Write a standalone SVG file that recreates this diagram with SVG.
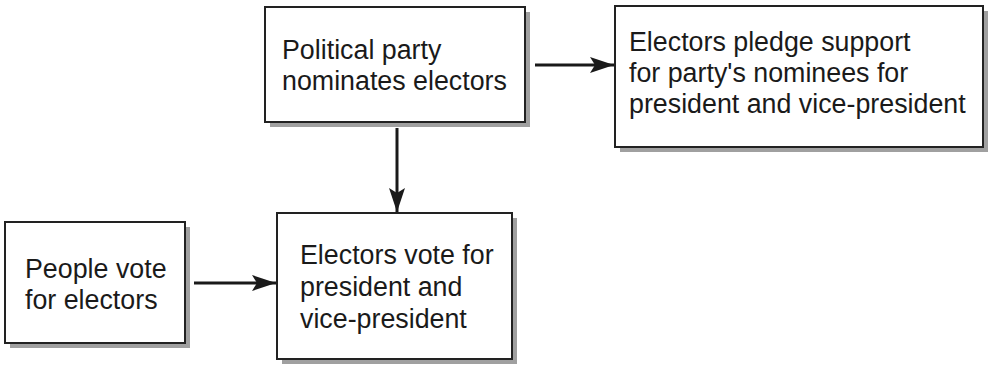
<svg xmlns="http://www.w3.org/2000/svg" width="989" height="367" viewBox="0 0 989 367">
<defs>
<style>
.shadow{fill:#a0a0a0;}
.box{fill:#fff;stroke:#222;stroke-width:2;}
.t{font-family:"Liberation Sans",Arial,sans-serif;font-size:26.8px;fill:#1a1a1a;}
.c{stroke:#1a1a1a;stroke-width:3;fill:none;}
</style>
<marker id="arr" viewBox="0 0 24 16" refX="24" refY="8" markerWidth="24" markerHeight="16" orient="auto" markerUnits="userSpaceOnUse">
<path d="M0,0 L24,8 L0,16 L5,8 Z" fill="#1a1a1a"/>
</marker>
</defs>
<g id="party">
<rect class="shadow" x="270" y="12" width="260" height="115"/>
<rect class="box" x="265" y="7" width="260" height="115"/>
<text class="t" x="282" y="59">Political party</text>
<text class="t" x="282" y="90">nominates electors</text>
</g>
<g id="pledge">
<rect class="shadow" x="620" y="11" width="368" height="141"/>
<rect class="box" x="615" y="6" width="368" height="141"/>
<text class="t" x="629" y="51">Electors pledge support</text>
<text class="t" x="629" y="82">for party's nominees for</text>
<text class="t" x="629" y="113">president and vice-president</text>
</g>
<g id="people">
<rect class="shadow" x="10" y="227" width="180" height="121"/>
<rect class="box" x="5" y="222" width="180" height="121"/>
<text class="t" x="25" y="278">People vote</text>
<text class="t" x="25" y="309">for electors</text>
</g>
<g id="electors">
<rect class="shadow" x="282" y="218" width="235" height="146"/>
<rect class="box" x="277" y="213" width="235" height="146"/>
<text class="t" x="300" y="264">Electors vote for</text>
<text class="t" x="300" y="296">president and</text>
<text class="t" x="300" y="328">vice-president</text>
</g>
<g id="connectors">
<line class="c" x1="535" y1="65" x2="614" y2="65" marker-end="url(#arr)"/>
<line class="c" x1="397" y1="128" x2="397" y2="212" marker-end="url(#arr)"/>
<line class="c" x1="194" y1="283" x2="276" y2="283" marker-end="url(#arr)"/>
</g>
</svg>
